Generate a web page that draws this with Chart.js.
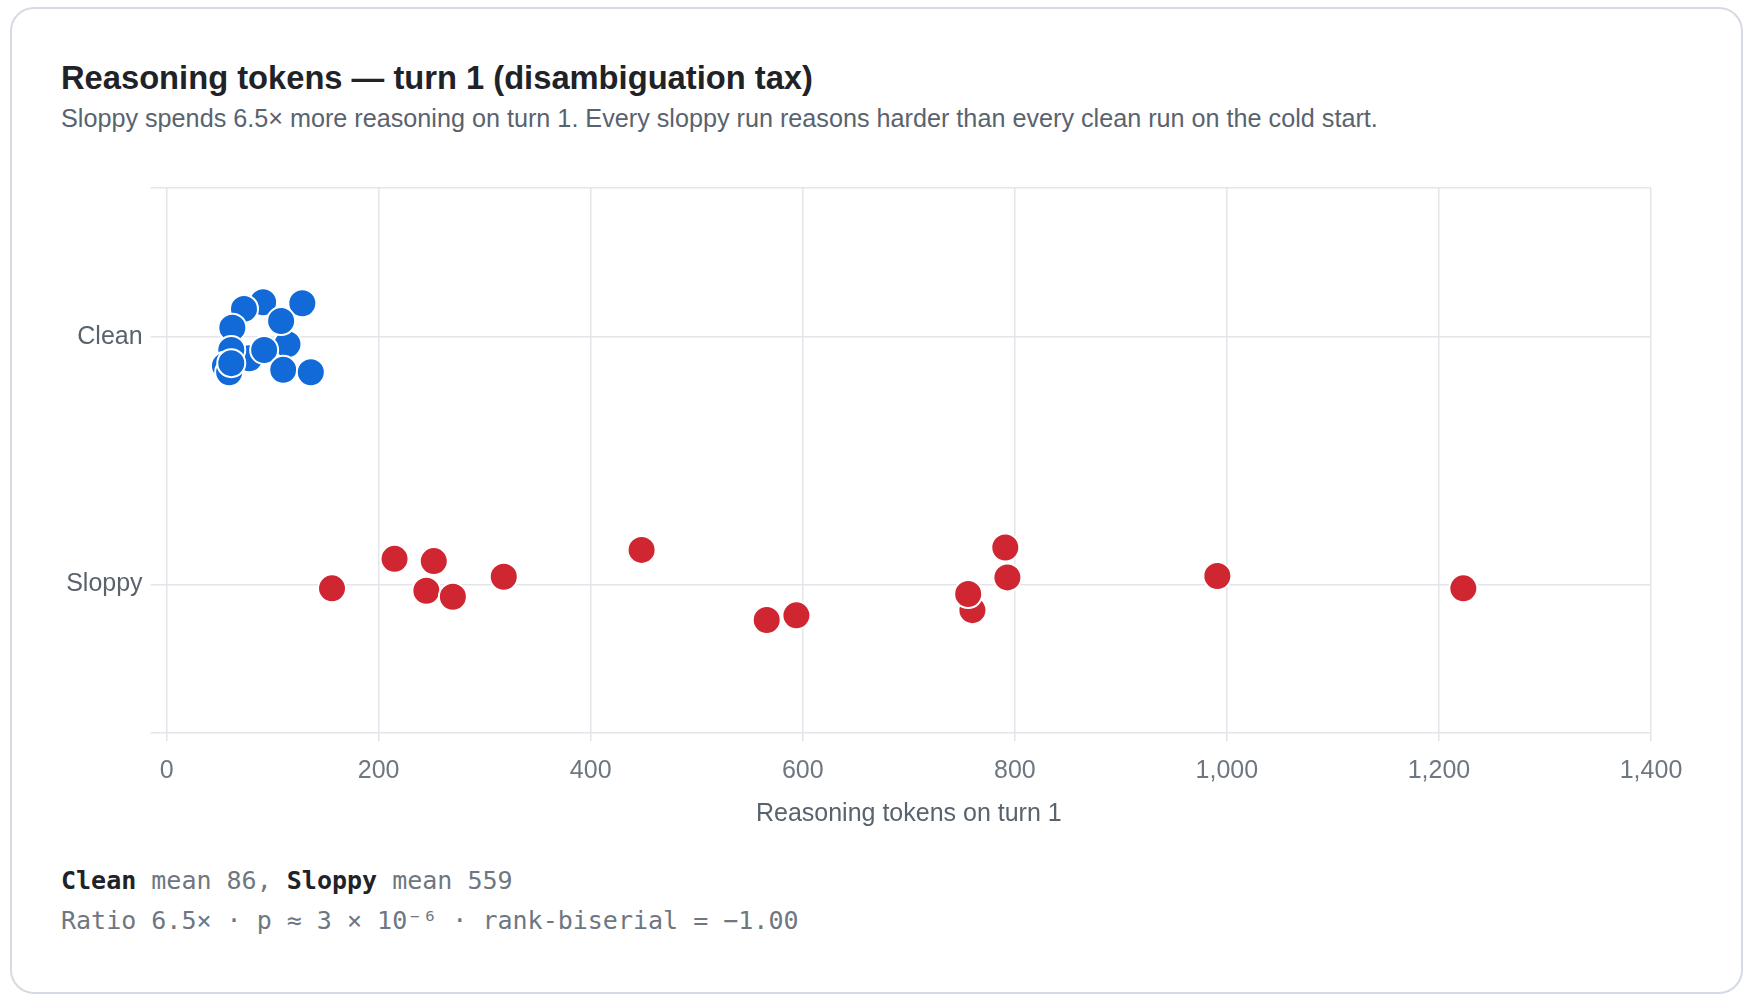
<!DOCTYPE html>
<html>
<head>
<meta charset="utf-8">
<script src="https://cdn.jsdelivr.net/npm/chart.js@4"></script>
<style>
  html, body { margin: 0; padding: 0; background: #fff; width: 1753px; height: 1005px; overflow: hidden; }
  body { font-family: "Liberation Sans", Arial, sans-serif; }
  .card {
    position: absolute; left: 10px; top: 7px; width: 1729px; height: 983px;
    border: 2px solid #d5dbe3; border-radius: 24px; box-sizing: content-box;
  }
  .title { position: absolute; left: 61px; top: 58px; font-size: 32.7px; line-height: 40px; font-weight: bold; color: #1f2328; white-space: nowrap; }
  .subtitle { position: absolute; left: 61px; top: 103px; font-size: 25.2px; line-height: 30px; color: #59636e; white-space: nowrap; }
  .chart-box { position: absolute; left: 61px; top: 158px; width: 1639px; height: 690px; }
  .stats { position: absolute; left: 61px; top: 861px; font-family: "DejaVu Sans Mono", monospace; font-size: 25px; line-height: 40px; color: #6e7781; white-space: nowrap; }
  .stats b { color: #1f2328; }
</style>
</head>
<body>
<div class="card"></div>
<div class="title">Reasoning tokens — turn 1 (disambiguation tax)</div>
<div class="subtitle">Sloppy spends 6.5× more reasoning on turn 1. Every sloppy run reasons harder than every clean run on the cold start.</div>
<div class="chart-box"><canvas id="tokensChart"></canvas></div>
<div class="stats">
  <div><b>Clean</b> mean 86, <b>Sloppy</b> mean 559</div>
  <div>Ratio 6.5× · p ≈ 3 × 10⁻⁶ · rank-biserial = −1.00</div>
</div>
<script>
const categories = ['Sloppy', 'Clean'];

// turn-1 reasoning tokens per run, with the vertical jitter used in the strip plot
const cleanTokens = [91, 73, 128, 114, 108, 62, 78, 92, 61, 56, 55, 59, 61, 110, 136];
const cleanJitter = [0.139, 0.112, 0.135, -0.031, 0.063, 0.036, -0.087, -0.054, -0.054, -0.128, -0.118, -0.144, -0.107, -0.134, -0.144];

const sloppyTokens = [156, 215, 252, 245, 270, 318, 448, 566, 594, 760, 756, 791, 793, 991, 1223];
const sloppyJitter = [-0.016, 0.103, 0.094, -0.026, -0.05, 0.031, 0.139, -0.144, -0.125, -0.104, -0.039, 0.149, 0.028, 0.034, -0.016];

const xTicksMax = 1400;

function toPoints(tokens, jitter, row) {
  return tokens.map((t, i) => ({ x: t, y: row + jitter[i] }));
}

const gridColor = '#e4e5eb';
const tickFont = { family: '"Liberation Sans", Arial, sans-serif', size: 25 };

const ctx = document.getElementById('tokensChart').getContext('2d');
new Chart(ctx, {
  type: 'scatter',
  data: {
    datasets: [
      {
        label: 'Clean',
        data: toPoints(cleanTokens, cleanJitter, 1),
        backgroundColor: '#116ad8',
        borderColor: '#ffffff',
        borderWidth: 2,
        pointRadius: 14,
        pointHoverRadius: 14
      },
      {
        label: 'Sloppy',
        data: toPoints(sloppyTokens, sloppyJitter, 0),
        backgroundColor: '#cf2631',
        borderColor: '#ffffff',
        borderWidth: 2,
        pointRadius: 14,
        pointHoverRadius: 14
      }
    ]
  },
  options: {
    responsive: true,
    maintainAspectRatio: false,
    animation: false,
    layout: { padding: { top: 30, right: 49, bottom: 0, left: 0 } },
    plugins: {
      legend: { display: false },
      tooltip: { enabled: false }
    },
    scales: {
      x: {
        type: 'linear',
        min: 0,
        max: xTicksMax,
        border: { display: false },
        grid: { color: gridColor, lineWidth: 1.5, tickLength: 8 },
        afterFit: (scale) => { scale.height = 115; },
        ticks: { stepSize: 200, padding: 15.5, color: '#6e7781', font: tickFont },
        title: {
          display: true,
          text: 'Reasoning tokens on turn 1',
          color: '#59636e',
          font: tickFont,
          padding: { top: 16, bottom: 19 }
        }
      },
      y: {
        type: 'linear',
        min: -0.6,
        max: 1.6,
        border: { display: false },
        grid: { color: gridColor, lineWidth: 1.5, tickLength: 16 },
        afterBuildTicks: (scale) => {
          scale.ticks = [-0.6, 0, 1, 1.6].map(v => ({ value: v }));
        },
        afterFit: (scale) => { scale.width = 105.6; },
        ticks: {
          padding: 8,
          color: '#59636e',
          font: tickFont,
          callback: (value) => categories[value] ?? ''
        }
      }
    }
  }
});
</script>
</body>
</html>
